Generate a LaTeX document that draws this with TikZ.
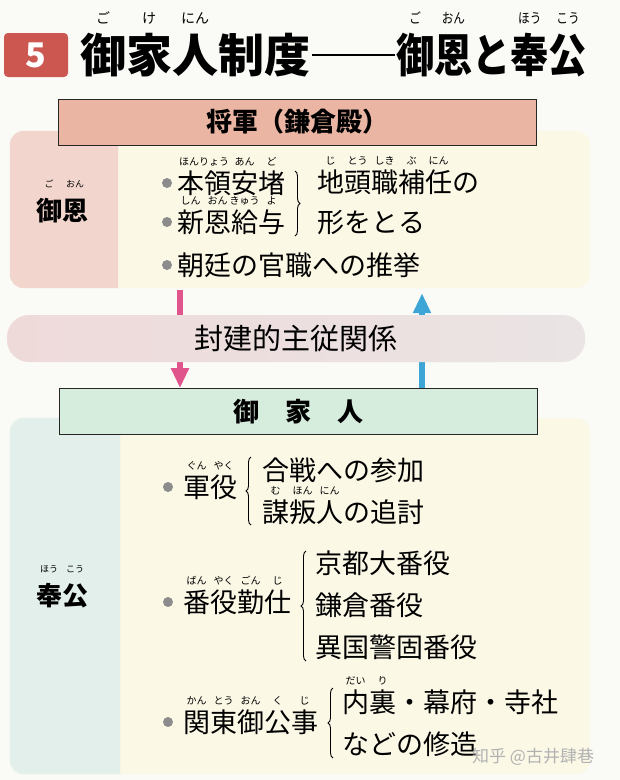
\documentclass[tikz,border=0pt]{standalone}
\usepackage{fontspec}
\setmainfont{Noto Sans CJK JP}
\usepackage{graphicx}
\usetikzlibrary{arrows.meta,decorations.pathreplacing}

\definecolor{paper}{HTML}{FAFAF7}
\definecolor{numred}{HTML}{CC5650}
\definecolor{cream}{HTML}{FBF8E6}
\definecolor{goonpink}{HTML}{F2D6CD}
\definecolor{shogunred}{HTML}{EBB5A3}
\definecolor{bandpink}{HTML}{EFDADA}
\definecolor{bandgray}{HTML}{EAE4E4}
\definecolor{gokeningreen}{HTML}{D6ECDD}
\definecolor{hokomint}{HTML}{E3EFEB}
\definecolor{arrowpink}{HTML}{E0558C}
\definecolor{arrowblue}{HTML}{3DA6D6}
\definecolor{dotgray}{HTML}{8C8C8C}

% ふりがな
\newcommand\rubyfont{\fontsize{10}{10}\selectfont}
\newcommand\rubyraise{1.02em}
\newcommand\furi[2]{\leavevmode\setbox0=\hbox{#1}\rlap{\raisebox{\rubyraise}[0pt][0pt]{\makebox[\wd0]{\rubyfont #2}}}\box0\relax}

\begin{document}
\begin{tikzpicture}[x=1pt,y=-1pt,>=Stealth,
  item/.style={anchor=west,inner sep=0pt,font=\fontsize{27}{27}\selectfont},
  side/.style={inner sep=0pt,font=\fontsize{26}{26}\selectfont\bfseries\renewcommand\rubyfont{\mdseries\fontsize{9}{9}\selectfont}\renewcommand\rubyraise{1.3em}},
  title/.style={anchor=west,inner sep=0pt,font=\fontsize{46}{46}\selectfont\bfseries\renewcommand\rubyfont{\mdseries\fontsize{14}{14}\selectfont}\renewcommand\rubyraise{1.06em}},
  headbox/.style={draw=black!85,line width=0.8pt,minimum width=478pt,minimum height=46pt,inner sep=0pt,font=\fontsize{26}{26}\selectfont\bfseries},
  panel/.style={rounded corners=14pt,fill=cream,minimum width=580pt,inner sep=0pt},
  band/.style={rounded corners=22pt,left color=bandpink,right color=bandgray,minimum width=578pt,minimum height=47pt,inner sep=0pt,font=\fontsize{29}{29}\selectfont},
  bulletdot/.style={fill=dotgray},
  brc/.style={decorate,decoration={brace,amplitude=5pt},line width=0.9pt},
  ukeru/.style={line width=6pt,-{Triangle[width=17pt,length=20pt]}},
  wmark/.style={anchor=west,inner sep=0pt,text=black!30,font=\fontsize{17}{17}\selectfont}]

   % 背景
   \fill[paper] (0,0) rectangle (620,780);
   \useasboundingbox (0,0) rectangle (620,780);

   % 表題
   \node[fill=numred,rounded corners=4pt,minimum width=64pt,minimum height=44pt,inner sep=0pt,text=white,font=\fontsize{34}{34}\selectfont\bfseries] (num) at (36,55) {5};
   \node[title] (title1) at (80,55) {\furi{御}{ご}\furi{家}{け}\furi{人}{にん}制度};
   \node[title] (title2) at (396,55) {\scalebox{0.83}[1]{\furi{御}{ご}\furi{恩}{おん}と\furi{奉}{ほう}\furi{公}{こう}}};
   \draw[line width=1.5pt] ([xshift=2pt]title1.east) -- ([xshift=-1pt]title2.west);

   % 御恩
   \node[panel,minimum height=157pt] (goonpanel) at (300,209.5) {};
   \begin{scope}
     \clip (goonpanel.north west) rectangle (118,300);
     \fill[goonpink,rounded corners=14pt] (goonpanel.north west) rectangle (goonpanel.south east);
   \end{scope}
   \node[headbox,fill=shogunred] (shogun) at (297.5,122) {将軍（鎌倉殿）};
   \node[side] (goon) at (62,211) {\furi{御}{ご}\furi{恩}{おん}};

   \node[item] (honryo) at (177,183) {\furi{本領}{ほんりょう}\furi{安}{あん}\furi{堵}{ど}};
   \node[item] (shinon) at (177,222) {\furi{新}{しん}\furi{恩}{おん}\furi{給}{きゅう}\furi{与}{よ}};
   \node[item] (chotei) at (177,265) {朝廷の官職への推挙};
   \draw[brc] (295,171) -- (295,236);
   \node[item] (jito) at (317,182) {\furi{地}{じ}\furi{頭}{とう}\furi{職}{しき}\furi{補}{ぶ}\furi{任}{にん}の};
   \node[item] (katachi) at (317,223) {形をとる};
   \foreach \n in {honryo,shinon,chotei}
     \fill[bulletdot] ([xshift=-10pt]\n.west) circle (5pt);

   % 奉公
   \node[panel,minimum height=356pt] (hokopanel) at (300,596) {};
   \begin{scope}
     \clip (hokopanel.north west) rectangle (120,790);
     \fill[hokomint,rounded corners=14pt] (hokopanel.north west) rectangle (hokopanel.south east);
   \end{scope}
   \node[headbox,fill=gokeningreen] (gokenin) at (298.5,411.5) {御　家　人};

   % 矢印
   \coordinate (px) at (180,0);
   \coordinate (bx) at (422,0);
   \coordinate (pinktop) at (goonpanel.south -| px);
   \coordinate (bluetop) at (goonpanel.south -| bx);
   \draw[ukeru,arrowpink] ([yshift=-2pt]pinktop) -- (gokenin.north -| px);
   \draw[ukeru,arrowblue] (gokenin.north -| bx) -- ([yshift=-5pt]bluetop);
   \node[band] (hoken) at (296,338.5) {封建的主従関係};

   \node[side] (hoko) at (62,596) {\furi{奉}{ほう}\furi{公}{こう}};

   \node[item] (gunyaku) at (183,487) {\furi{軍}{ぐん}\furi{役}{やく}};
   \draw[brc] (251,525) -- (251,457);
   \node[item] (kassen) at (262,470) {合戦への参加};
   \node[item] (muhon) at (262,512) {\furi{謀}{む}\furi{叛}{ほん}\furi{人}{にん}の追討};

   \node[item] (banyaku) at (183,602) {\furi{番}{ばん}\furi{役}{やく}\furi{勤}{ごん}\furi{仕}{じ}};
   \draw[brc] (306,661) -- (306,551);
   \node[item] (kyoto) at (315,563) {京都大番役};
   \node[item] (kamakura) at (315,605) {鎌倉番役};
   \node[item] (ikoku) at (315,647) {異国警固番役};

   \node[item] (kanto) at (183,722) {\furi{関}{かん}\furi{東}{とう}\furi{御}{おん}\furi{公}{く}\furi{事}{じ}};
   \draw[brc] (333,758) -- (333,688);
   \node[item] (dairi) at (342,702) {\furi{内}{だい}\furi{裏}{り}・幕府・寺社};
   \node[item] (shuzo) at (342,744) {などの修造};
   \foreach \n in {gunyaku,banyaku,kanto}
     \fill[bulletdot] ([xshift=-15pt]\n.west) circle (5pt);

   \node[wmark] (zhihu) at (472,757) {知乎 @古井肆巷};

\end{tikzpicture}
\end{document}
